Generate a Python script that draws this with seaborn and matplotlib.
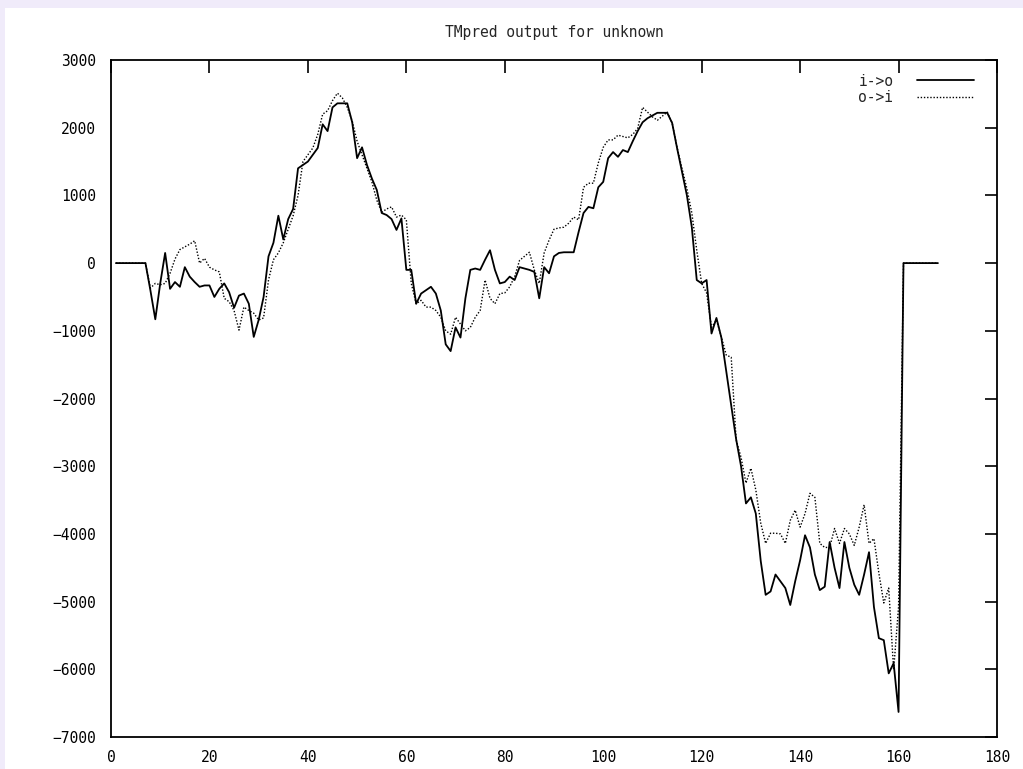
import numpy as np
import pandas as pd
import seaborn as sns
import matplotlib.pyplot as plt
from matplotlib.patches import Rectangle

# residue positions 1..168
pos = list(range(1, 169))

# i->o score (solid)
i_to_o = [
    0, 0, 0, 0, 0, 0, 0, -400, -830, -300,
    150, -380, -280, -350, -60, -200, -280, -350, -330, -330,
    -500, -380, -300, -430, -660, -480, -450, -600, -1090, -840,
    -500, 100, 300, 700, 350, 650, 800, 1400, 1450, 1500,
    1600, 1700, 2050, 1950, 2300, 2360, 2360, 2360, 2080, 1550,
    1710, 1450, 1250, 1080, 740, 710, 650, 490, 660, -100,
    -100, -600, -450, -400, -350, -450, -700, -1200, -1300, -950,
    -1100, -520, -100, -80, -100, 50, 190, -100, -300, -280,
    -200, -250, -60, -80, -100, -130, -520, -60, -150, 100,
    150, 160, 160, 160, 460, 740, 830, 810, 1120, 1200,
    1550, 1640, 1570, 1670, 1640, 1800, 1950, 2080, 2140, 2180,
    2220, 2220, 2220, 2070, 1700, 1350, 1000, 530, -250, -300,
    -250, -1040, -810, -1100, -1600, -2100, -2600, -3000, -3550, -3460,
    -3700, -4400, -4900, -4850, -4600, -4700, -4800, -5050, -4700, -4390,
    -4020, -4200, -4600, -4830, -4780, -4120, -4500, -4800, -4120, -4500,
    -4750, -4900, -4600, -4270, -5080, -5540, -5570, -6060, -5910, -6630,
    0, 0, 0, 0, 0, 0, 0, 0,
]

# o->i score (dotted)
o_to_i = [
    0, 0, 0, 0, 0, 0, 0, -370, -300, -320,
    -300, -150, 60, 200, 240, 280, 330, 0, 70, -60,
    -100, -130, -520, -570, -700, -990, -650, -700, -740, -840,
    -810, -250, 50, 150, 300, 500, 700, 1000, 1500, 1600,
    1700, 1900, 2200, 2250, 2400, 2510, 2440, 2300, 2100, 1800,
    1600, 1400, 1200, 930, 750, 800, 830, 680, 710, 640,
    -300, -600, -550, -650, -650, -700, -800, -1000, -1050, -800,
    -900, -1000, -950, -800, -700, -250, -520, -600, -450, -440,
    -350, -200, 40, 100, 160, -100, -300, 150, 340, 500,
    520, 530, 590, 680, 640, 1120, 1180, 1180, 1480, 1710,
    1820, 1820, 1890, 1870, 1850, 1900, 1990, 2300, 2230, 2160,
    2110, 2170, 2230, 2070, 1710, 1400, 1100, 740, 190, -300,
    -440, -950, -840, -1090, -1360, -1390, -2610, -2870, -3250, -3030,
    -3350, -3840, -4140, -3990, -3990, -4000, -4140, -3800, -3650, -3900,
    -3700, -3400, -3460, -4140, -4200, -4200, -3920, -4140, -3920, -4000,
    -4170, -3900, -3570, -4140, -4070, -4580, -5020, -4800, -6010, -5080,
    0, 0, 0, 0, 0, 0, 0, 0,
]

x_ticks = [0, 20, 40, 60, 80, 100, 120, 140, 160, 180]
y_ticks = [-7000, -6000, -5000, -4000, -3000, -2000, -1000, 0, 1000, 2000, 3000]

df = pd.DataFrame({
    "pos": pos * 2,
    "score": i_to_o + o_to_i,
    "dir": ["i->o"] * len(pos) + ["o->i"] * len(pos),
})

sns.set_style("white")
plt.rcParams['font.family'] = ['DejaVu Sans Mono']

W, H = 1023, 769
fig = plt.figure(figsize=(W / 100, H / 100), dpi=100)
fig.patch.set_facecolor('#f0ebfa')
fig.patches.append(Rectangle((5 / W, 0), 1, 1 - 8 / H, transform=fig.transFigure,
                             facecolor='white', edgecolor='none', zorder=-1))

ax = fig.add_axes([111 / W, 1 - 737 / H, (997 - 111) / W, (737 - 60) / H])
ax.set_facecolor('white')

sns.lineplot(data=df, x="pos", y="score", hue="dir", style="dir",
             palette=['black', 'black'], dashes=['', (1, 1.3)],
             linewidth=1.3, ax=ax, sort=False)

for ln in ax.lines:
    if ln.get_label() == 'o->i' or ln.get_linestyle() != '-':
        pass
ax.lines[1].set_linewidth(1.0)

ax.set_xlim(0, 180)
ax.set_ylim(-7000, 3000)
ax.set_xticks(x_ticks)
ax.set_yticks(y_ticks)
ax.set_xlabel('')
ax.set_ylabel('')
ax.tick_params(direction='in', length=9, width=1.2, top=True, right=True,
               labelsize=10.5, colors='black', pad=11)
ax.tick_params(axis='x', pad=9)
for s in ax.spines.values():
    s.set_color('black')
    s.set_linewidth(1.3)
    s.set_visible(True)

fig.text(554 / W, 1 - 33 / H, "TMpred output for unknown", ha='center', va='center',
         fontsize=10.5)

handles, labels = ax.get_legend_handles_labels()
leg = ax.legend(handles=handles, labels=labels, loc='upper right',
                bbox_to_anchor=(0.985, 0.995), frameon=False, markerfirst=False,
                handlelength=3.9, handletextpad=1.6, labelspacing=0.1,
                fontsize=10.5, borderaxespad=0.3)
leg.legend_handles[1].set_linewidth(1.0)

fig.savefig("out.png", dpi=100, facecolor=fig.get_facecolor())
